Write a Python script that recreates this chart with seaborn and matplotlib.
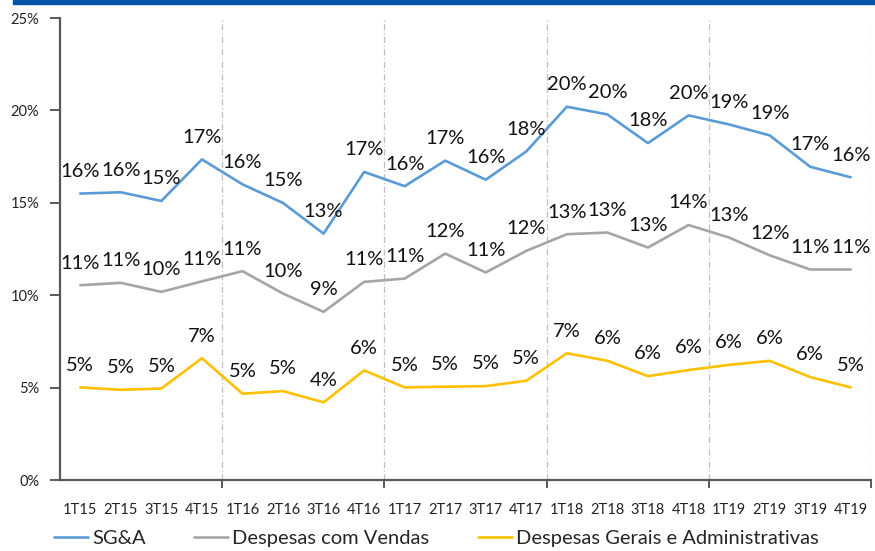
import matplotlib
matplotlib.use("Agg")
import matplotlib.pyplot as plt
import matplotlib.patches as mpatches
import numpy as np
import pandas as pd
import seaborn as sns

quarters = ["1T15", "2T15", "3T15", "4T15", "1T16", "2T16", "3T16", "4T16",
            "1T17", "2T17", "3T17", "4T17", "1T18", "2T18", "3T18", "4T18",
            "1T19", "2T19", "3T19", "4T19"]

sga = [15.5, 15.57, 15.1, 17.35, 16.0, 14.99, 13.33, 16.67, 15.9, 17.28,
       16.25, 17.78, 20.2, 19.78, 18.23, 19.73, 19.24, 18.65, 16.95, 16.38]
vendas = [10.54, 10.67, 10.18, 10.75, 11.3, 10.09, 9.1, 10.72, 10.9, 12.25,
          11.23, 12.4, 13.3, 13.39, 12.58, 13.8, 13.12, 12.16, 11.39, 11.39]
gerais = [5.01, 4.88, 4.95, 6.59, 4.67, 4.81, 4.2, 5.93, 5.01, 5.05,
          5.08, 5.37, 6.86, 6.45, 5.62, 5.95, 6.23, 6.45, 5.57, 5.01]

series_names = ["SG&A", "Despesas com Vendas", "Despesas Gerais e Administrativas"]
series_colors = ["#5B9BD5", "#A5A5A5", "#FFC000"]

df = pd.DataFrame({
    "quarter": quarters * 3,
    "value": sga + vendas + gerais,
    "series": np.repeat(series_names, len(quarters)),
})

sns.set_style("white")
plt.rcParams["font.family"] = ["Lato", "DejaVu Sans"]

fig = plt.figure(figsize=(8.75, 5.51), dpi=100)
ax = fig.add_axes([60 / 875, 1 - 480 / 551, 811 / 875, 462 / 551])

sns.lineplot(data=df, x="quarter", y="value", hue="series", palette=series_colors,
             linewidth=1.9, ax=ax, legend=True, sort=False)

# data labels
for vals in [sga, vendas, gerais]:
    for i, v in enumerate(vals):
        ax.annotate(f"{round(v)}%", (i, v), xytext=(0, 12), textcoords="offset points",
                    ha="center", va="baseline", fontsize=14.5, color="#111111")

ax.set_xlim(-0.5, len(quarters) - 0.5)
ax.set_ylim(0, 25)
ax.set_yticks([0, 5, 10, 15, 20, 25])
ax.set_yticklabels([f"{t}%" for t in [0, 5, 10, 15, 20, 25]])
ax.set_xlabel("")
ax.set_ylabel("")

# year separators
bounds = [3.5, 7.5, 11.5, 15.5, 19.5]
ax.set_xticks(bounds, minor=True)
for b in bounds:
    ax.axvline(b, color="#BFBFBF", linewidth=0.9, linestyle=(0, (5, 2, 1, 2)), zorder=0)

for side in ["top", "right"]:
    ax.spines[side].set_visible(False)
for side in ["left", "bottom"]:
    ax.spines[side].set_color("#595959")
    ax.spines[side].set_linewidth(1.6)

ax.tick_params(axis="y", which="major", left=True, length=7, width=1.4, color="#595959",
               labelsize=10.5, pad=8, labelcolor="#222222")
ax.tick_params(axis="x", which="major", bottom=False, labelsize=10.5, pad=13,
               labelcolor="#222222")
ax.tick_params(axis="x", which="minor", bottom=True, length=6, width=1.4, color="#595959")

handles, labels = ax.get_legend_handles_labels()
ax.get_legend().remove()
fig.legend(handles, labels, loc="center left", bbox_to_anchor=(54 / 875, 1 - 538 / 551),
           ncol=3, frameon=False, fontsize=14.5, handlelength=1.7, handletextpad=0.2,
           columnspacing=2.4, borderpad=0, borderaxespad=0)

# top rule
fig.patches.append(mpatches.Rectangle((13 / 875, 1 - 4 / 551), 1, 4 / 551,
                                      transform=fig.transFigure, color="#0055A5",
                                      zorder=5))

fig.savefig("out.png", dpi=100)
